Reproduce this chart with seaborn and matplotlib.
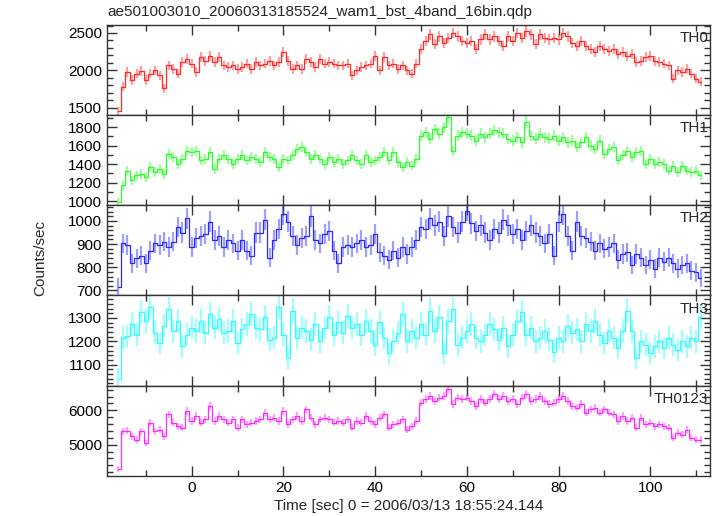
import numpy as np
import pandas as pd
import seaborn as sns
import matplotlib.pyplot as plt
from matplotlib.ticker import MultipleLocator

# 1 s time bins, centre of each bin (sec from trigger)
time = np.arange(-16, 112)
BIN_EXPOSURE = 0.5  # sec, used for Poisson error bars

# count rates, one value per second starting at t=-16
th0 = [1450, 1780, 1980, 1870, 1955, 1990, 1870, 1955, 2000, 1935,
       1760, 2065, 2020, 1955, 2110, 2150, 2090, 1980, 2175, 2130,
       2195, 2110, 2175, 2065, 2045, 2065, 2020, 2045, 2090, 2020,
       2110, 2065, 2090, 2130, 2065, 2110, 2250, 2130, 2020, 2065,
       2020, 2150, 2110, 2045, 2150, 2090, 2110, 2090, 2065, 2065,
       2090, 1935, 2000, 2045, 2065, 2090, 2195, 2000, 2175, 2065,
       2090, 2020, 2065, 2000, 1955, 2090, 2285, 2390, 2480, 2350,
       2455, 2370, 2435, 2500, 2455, 2390, 2370, 2390, 2285, 2415,
       2480, 2415, 2455, 2390, 2325, 2455, 2390, 2500, 2435, 2520,
       2480, 2350, 2480, 2435, 2415, 2435, 2415, 2500, 2455, 2370,
       2325, 2390, 2325, 2285, 2240, 2325, 2285, 2260, 2285, 2220,
       2240, 2195, 2220, 2110, 2130, 2175, 2195, 2130, 2110, 2090,
       2065, 1890, 2000, 1980, 2020, 1955, 1890, 1850]

th1 = [990, 1170, 1330, 1225, 1280, 1295, 1260, 1370, 1315, 1350,
       1295, 1510, 1475, 1400, 1455, 1545, 1530, 1545, 1440, 1455,
       1530, 1350, 1455, 1495, 1455, 1400, 1455, 1495, 1440, 1475,
       1455, 1420, 1530, 1475, 1455, 1370, 1455, 1440, 1495, 1565,
       1585, 1530, 1455, 1495, 1455, 1400, 1475, 1420, 1455, 1400,
       1440, 1495, 1440, 1400, 1495, 1420, 1440, 1475, 1530, 1440,
       1530, 1420, 1370, 1420, 1385, 1455, 1710, 1745, 1675, 1780,
       1730, 1800, 1905, 1545, 1710, 1745, 1730, 1710, 1655, 1730,
       1690, 1730, 1765, 1745, 1730, 1675, 1655, 1690, 1635, 1855,
       1710, 1675, 1730, 1690, 1675, 1710, 1655, 1690, 1635, 1655,
       1585, 1635, 1690, 1600, 1565, 1655, 1510, 1565, 1585, 1440,
       1495, 1545, 1475, 1530, 1545, 1400, 1455, 1400, 1420, 1400,
       1330, 1385, 1315, 1385, 1330, 1315, 1330, 1280]

th2 = [715, 903, 895, 817, 840, 849, 817, 872, 903, 895,
       911, 888, 911, 973, 950, 1012, 888, 927, 934, 942,
       997, 919, 934, 888, 919, 903, 872, 919, 872, 849,
       950, 950, 1005, 841, 919, 966, 1028, 997, 934, 895,
       927, 934, 1020, 919, 903, 942, 958, 872, 817, 888,
       895, 888, 903, 919, 888, 895, 942, 864, 849, 833,
       872, 841, 888, 857, 888, 919, 973, 966, 1012, 981,
       997, 934, 1020, 973, 950, 997, 1044, 989, 958, 981,
       950, 919, 966, 950, 1005, 981, 942, 966, 919, 958,
       981, 950, 934, 903, 942, 849, 997, 1028, 934, 872,
       997, 934, 927, 911, 872, 903, 880, 888, 903, 833,
       857, 864, 810, 857, 841, 810, 833, 794, 841, 825,
       841, 817, 794, 810, 817, 786, 778, 755]

th3 = [1040, 1215, 1222, 1274, 1229, 1325, 1288, 1347, 1237, 1193,
       1266, 1340, 1244, 1288, 1178, 1229, 1259, 1244, 1288, 1237,
       1318, 1259, 1296, 1237, 1244, 1288, 1193, 1251, 1274, 1318,
       1259, 1251, 1303, 1207, 1215, 1347, 1229, 1127, 1332, 1215,
       1259, 1244, 1207, 1274, 1200, 1259, 1303, 1229, 1281, 1237,
       1310, 1259, 1274, 1229, 1288, 1244, 1185, 1281, 1215, 1149,
       1200, 1237, 1318, 1200, 1244, 1215, 1274, 1229, 1332, 1244,
       1303, 1149, 1288, 1340, 1185, 1215, 1244, 1274, 1215, 1200,
       1229, 1274, 1251, 1207, 1259, 1178, 1229, 1288, 1325, 1229,
       1259, 1200, 1215, 1244, 1207, 1156, 1215, 1200, 1266, 1237,
       1251, 1200, 1274, 1244, 1288, 1229, 1193, 1244, 1215, 1171,
       1244, 1332, 1244, 1127, 1200, 1185, 1149, 1178, 1200, 1171,
       1215, 1185, 1163, 1200, 1178, 1215, 1200, 1303]

th0123 = [4300, 5392, 5412, 5245, 5147, 5392, 5050, 5637, 5392, 5441,
          5245, 5882, 5637, 5539, 5490, 5980, 5686, 5833, 5637, 5735,
          6127, 5686, 5833, 5735, 5637, 5735, 5490, 5735, 5588, 5637,
          5686, 5735, 5931, 5735, 5784, 5686, 5980, 5588, 5735, 5833,
          5686, 6029, 5784, 5588, 5735, 5784, 5735, 5637, 5686, 5637,
          5735, 5490, 5686, 5637, 5833, 5686, 5588, 5784, 5882, 5490,
          5588, 5637, 5735, 5441, 5539, 5686, 6225, 6323, 6421, 6274,
          6372, 6421, 6617, 6176, 6372, 6323, 6372, 6274, 6127, 6323,
          6225, 6323, 6470, 6323, 6421, 6274, 6323, 6176, 6372, 6470,
          6274, 6323, 6421, 6274, 6176, 6225, 6323, 6421, 6274, 6127,
          6078, 6176, 5931, 6029, 6078, 5931, 6029, 5931, 5882, 5686,
          5833, 5686, 5784, 5490, 5784, 5588, 5637, 5539, 5588, 5539,
          5490, 5196, 5343, 5294, 5441, 5196, 5147, 5147]

title = "ae501003010_20060313185524_wam1_bst_4band_16bin.qdp"

# name, rates, colour, y range, major step, minor step
panels = [
    ("TH0", th0, "#ff2a2a", (1403, 2610), 500, 100),
    ("TH1", th1, "#2aff2a", (957, 1932), 200, 100),
    ("TH2", th2, "#2a2aff", (679, 1068), 100, 20),
    ("TH3", th3, "#2affff", (1010, 1397), 100, 20),
    ("TH0123", th0123, "#ff2aff", (4096, 6720), 1000, 200),
]

sns.set_theme(style="ticks")
plt.rcParams['font.family'] = ['Liberation Sans', 'DejaVu Sans']

fig, axes = plt.subplots(5, 1, sharex=True, figsize=(7.17, 5.16), dpi=100)
fig.subplots_adjust(left=0.149, right=0.990, top=0.952, bottom=0.078, hspace=0)

for ax, (name, rate, color, ylim, major, minor) in zip(axes, panels):
    df = pd.DataFrame({"time": time, "rate": rate})
    err = np.sqrt(df["rate"] / BIN_EXPOSURE)
    ax.errorbar(df["time"], df["rate"], yerr=err, fmt="none",
                ecolor=color, alpha=0.45, elinewidth=1.6)
    sns.lineplot(data=df, x="time", y="rate", color=color,
                 drawstyle="steps-mid", linewidth=0.9, ax=ax)
    ax.set_ylim(*ylim)
    ax.set_xlim(-18.5, 113)
    ax.yaxis.set_major_locator(MultipleLocator(major))
    ax.yaxis.set_minor_locator(MultipleLocator(minor))
    ax.xaxis.set_major_locator(MultipleLocator(20))
    ax.xaxis.set_minor_locator(MultipleLocator(10))
    ax.tick_params(which="both", direction="in", top=True, right=True,
                   color="#333333", labelsize=11, labelcolor="black")
    ax.tick_params(which="major", length=7, width=1)
    ax.tick_params(which="minor", length=4, width=1)
    for sp in ax.spines.values():
        sp.set_color("#333333")
        sp.set_linewidth(1)
    ax.set_ylabel("")
    ax.set_xlabel("")
    ax.text(0.997, 0.93, name, transform=ax.transAxes, ha="right", va="top",
            fontsize=11)

axes[-1].set_xlabel("Time [sec] 0 = 2006/03/13 18:55:24.144", fontsize=11,
                    labelpad=3)
fig.text(0.056, 0.5, "Counts/sec", rotation=90, ha="center", va="center",
         fontsize=11)
fig.text(107 / 717, 1 - 12 / 516, title, ha="left", va="center", fontsize=11)

fig.savefig("out.png", dpi=100)
